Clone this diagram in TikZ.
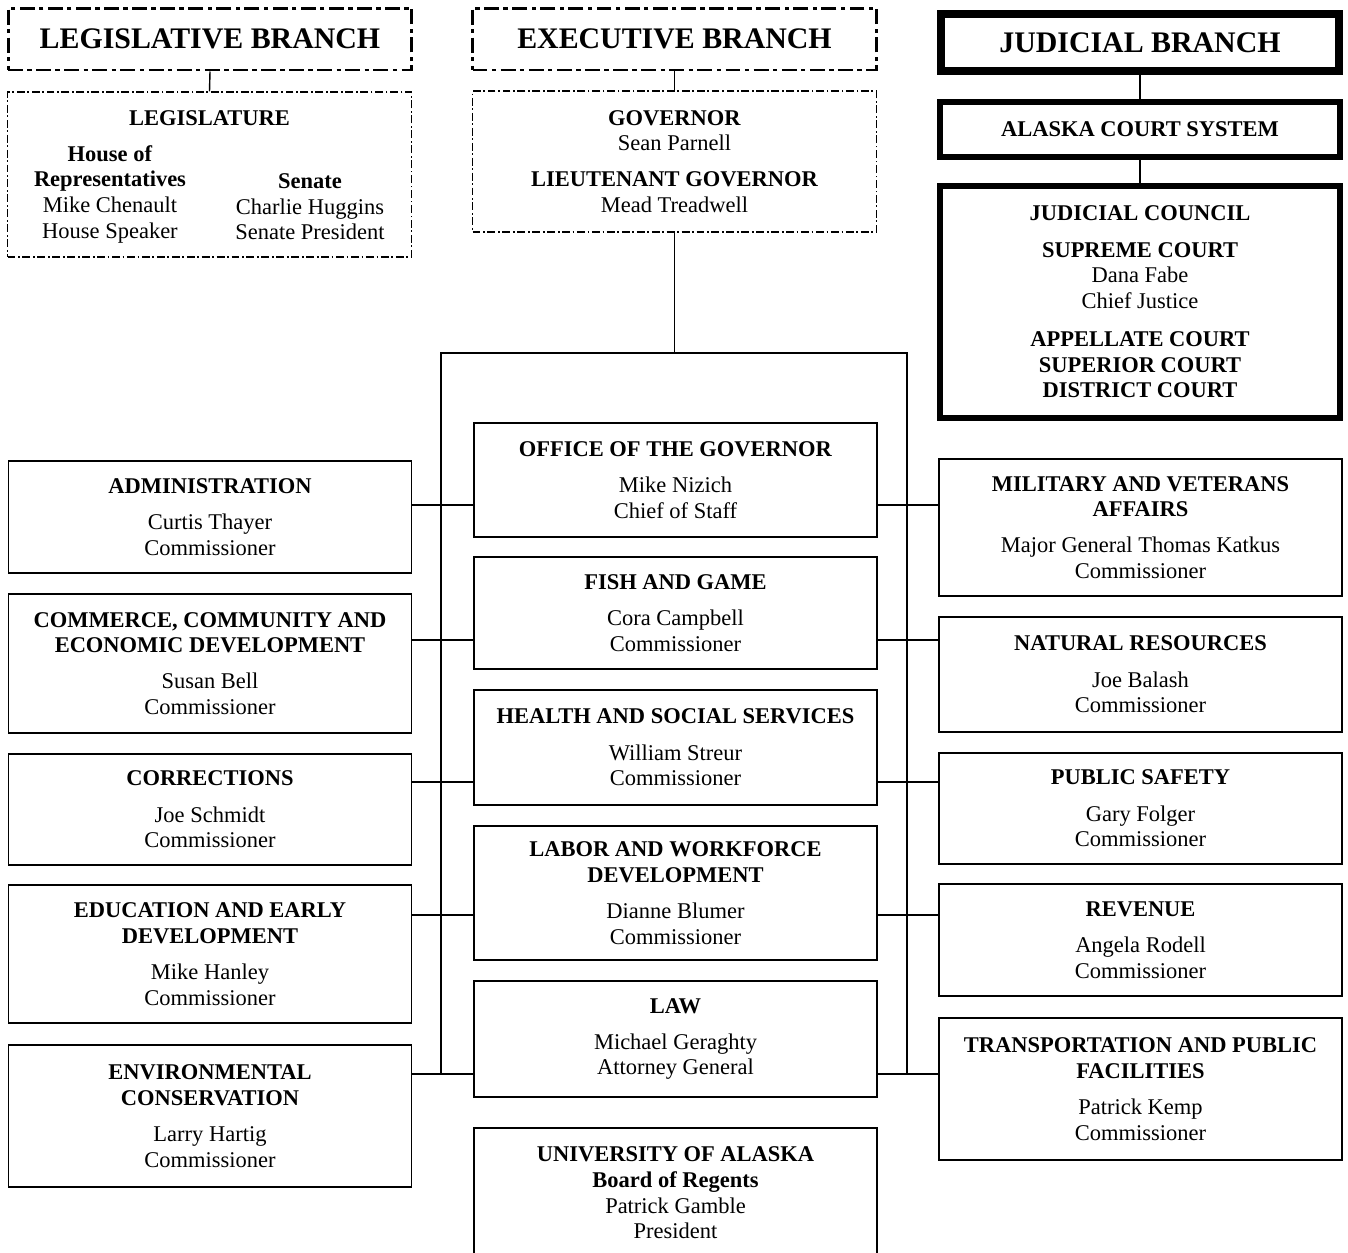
\documentclass[tikz,border=0pt]{standalone}
\usepackage{fontspec}
\setmainfont{Liberation Serif}
\begin{document}
\begin{tikzpicture}[x=0.02cm, y=-0.02cm,
    every node/.style={font=\fontsize{12.8}{14.6}\selectfont, align=center, inner sep=0pt},
    dept/.style={draw, line width=1pt, minimum width=8.06cm, minimum height=#1*0.02cm},
    branch/.style={draw, line width=1.7pt, dash pattern=on 8.5pt off 2.5pt on 2.5pt off 2.5pt,
        minimum width=8.08cm, minimum height=1.24cm, font=\fontsize{17}{19}\selectfont\bfseries},
    upper/.style={draw, line width=0.6pt, dash pattern=on 4.5pt off 1.5pt on 1pt off 1.5pt,
        minimum width=8.08cm, minimum height=#1*0.02cm},
    court/.style={draw, line width=#1, minimum width=8cm},
    link/.style={line width=0.8pt}]
  \useasboundingbox (0,0) rectangle (1348,1252);

  % branches
  \node[branch] (leg) at (210,39) {LEGISLATIVE BRANCH};
  \node[branch] (exe) at (674.5,39) {EXECUTIVE BRANCH};
  \node[court=4.5pt, minimum width=7.96cm, minimum height=1.14cm,
        font=\fontsize{17}{19}\selectfont\bfseries] (jud) at (1140,42.5) {JUDICIAL BRANCH};

  % legislature
  \node[upper=165] (legis) at (209.5,174.5) {};
  \node (legt) at (209.5,118) {\textbf{LEGISLATURE}};
  \node (house) at (110,194) {\textbf{House of}\\\textbf{Representatives}\\Mike Chenault\\House Speaker};
  \node (senate) at (310,207) {\textbf{Senate}\\Charlie Huggins\\Senate President};

  % governor
  \node[upper=141] (gov) at (674.5,161.5) {\textbf{GOVERNOR}\\Sean Parnell\\[6pt]
      \textbf{LIEUTENANT GOVERNOR}\\Mead Treadwell};

  % courts
  \node[court=3.4pt, minimum height=55*0.02cm] (acs) at (1140,129.5) {\textbf{ALASKA COURT SYSTEM}};
  \node[court=3.4pt, minimum height=232*0.02cm] (council) at (1140,302) {\textbf{JUDICIAL COUNCIL}\\[6pt]
      \textbf{SUPREME COURT}\\Dana Fabe\\Chief Justice\\[7pt]
      \textbf{APPELLATE COURT}\\\textbf{SUPERIOR COURT}\\\textbf{DISTRICT COURT}};

  % departments, left
  \node[dept=112] (adm) at (210,517) {\textbf{ADMINISTRATION}\\[6pt]Curtis Thayer\\Commissioner};
  \node[dept=139] (com) at (210,663.5) {\textbf{COMMERCE, COMMUNITY AND}\\\textbf{ECONOMIC DEVELOPMENT}\\[6pt]Susan Bell\\Commissioner};
  \node[dept=111] (cor) at (210,809.5) {\textbf{CORRECTIONS}\\[6pt]Joe Schmidt\\Commissioner};
  \node[dept=138] (edu) at (210,954) {\textbf{EDUCATION AND EARLY}\\\textbf{DEVELOPMENT}\\[6pt]Mike Hanley\\Commissioner};
  \node[dept=142] (env) at (210,1116) {\textbf{ENVIRONMENTAL}\\\textbf{CONSERVATION}\\[6pt]Larry Hartig\\Commissioner};

  % departments, middle
  \node[dept=114] (ofc) at (675.5,480) {\textbf{OFFICE OF THE GOVERNOR}\\[6pt]Mike Nizich\\Chief of Staff};
  \node[dept=112] (fish) at (675.5,613) {\textbf{FISH AND GAME}\\[6pt]Cora Campbell\\Commissioner};
  \node[dept=115] (hss) at (675.5,747.5) {\textbf{HEALTH AND SOCIAL SERVICES}\\[6pt]William Streur\\Commissioner};
  \node[dept=134] (lab) at (675.5,893) {\textbf{LABOR AND WORKFORCE}\\\textbf{DEVELOPMENT}\\[6pt]Dianne Blumer\\Commissioner};
  \node[dept=116] (law) at (675.5,1039) {\textbf{LAW}\\[6pt]Michael Geraghty\\Attorney General};
  \node[dept=130] (univ) at (675.5,1193) {\textbf{UNIVERSITY OF ALASKA}\\\textbf{Board of Regents}\\Patrick Gamble\\President};

  % departments, right
  \node[dept=137] (mil) at (1140.5,527.5) {\textbf{MILITARY AND VETERANS}\\\textbf{AFFAIRS}\\[6pt]Major General Thomas Katkus\\Commissioner};
  \node[dept=115] (nat) at (1140.5,674.5) {\textbf{NATURAL RESOURCES}\\[6pt]Joe Balash\\Commissioner};
  \node[dept=111] (pub) at (1140.5,808.5) {\textbf{PUBLIC SAFETY}\\[6pt]Gary Folger\\Commissioner};
  \node[dept=112] (rev) at (1140.5,940) {\textbf{REVENUE}\\[6pt]Angela Rodell\\Commissioner};
  \node[dept=142] (trn) at (1140.5,1089) {\textbf{TRANSPORTATION AND PUBLIC}\\\textbf{FACILITIES}\\[6pt]Patrick Kemp\\Commissioner};

  % connectors
  \draw[link] (leg.south) -- (legis.north);
  \draw[link] (exe.south) -- (gov.north);
  \draw[link] (jud.south) -- (acs.north);
  \draw[link] (acs.south) -- (council.north);

  \coordinate (tl) at (441,353);
  \coordinate (tr) at (907,353);
  \coordinate (r1) at (0,505);
  \coordinate (r2) at (0,640);
  \coordinate (r3) at (0,782);
  \coordinate (r4) at (0,915);
  \coordinate (r5) at (0,1074);
  \draw[link] (gov.south) -- (gov.south |- tl);
  \draw[link] (tl |- r5) -- (tl) -- (tr) -- (tr |- r5);
  \foreach \r/\a/\b/\c in {r1/adm/ofc/mil, r2/com/fish/nat, r3/cor/hss/pub,
                           r4/edu/lab/rev, r5/env/law/trn}{
    \draw[link] (\a.east |- \r) -- (\b.west |- \r);
    \draw[link] (\b.east |- \r) -- (\c.west |- \r);
  }
\end{tikzpicture}
\end{document}
